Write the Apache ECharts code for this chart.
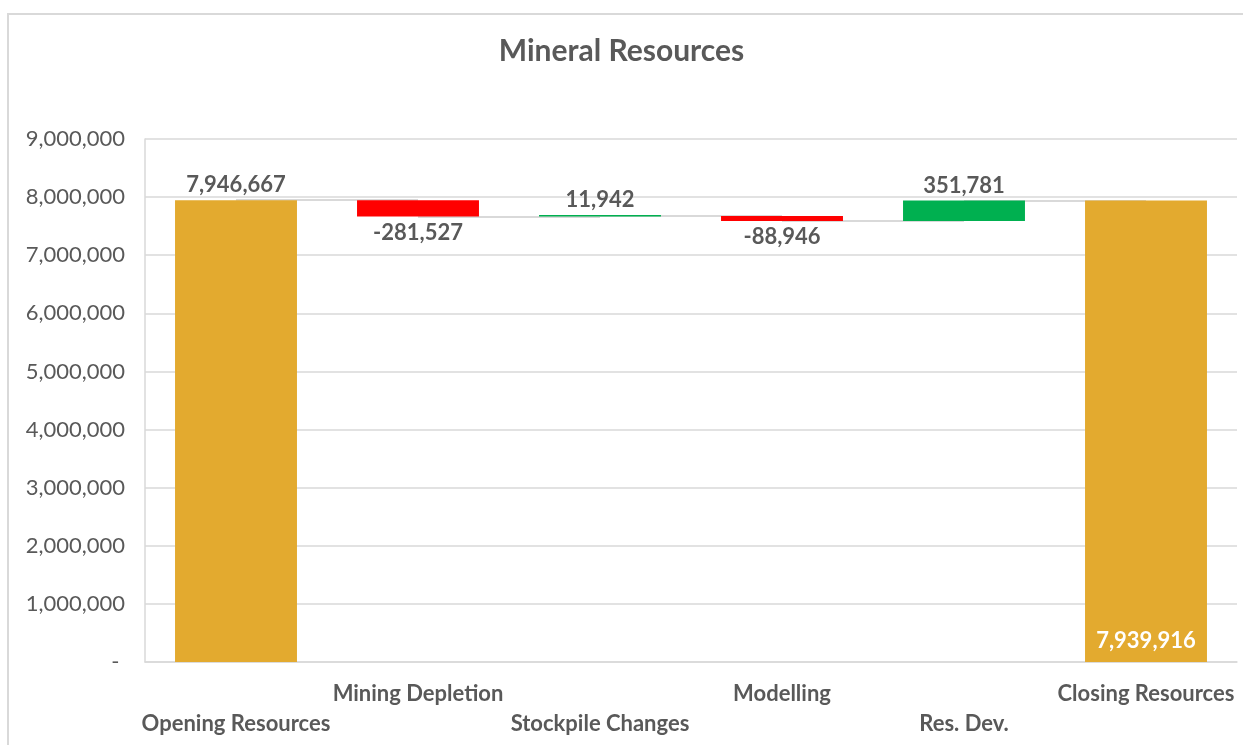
<!DOCTYPE html>
<html>
<head>
<meta charset="utf-8">
<script src="https://cdn.jsdelivr.net/npm/echarts@6/dist/echarts.min.js"></script>
<style>
html,body{margin:0;padding:0;background:#fff;}
#chart{width:1243px;height:745px;}
</style>
</head>
<body>
<div id="chart"></div>
<script>
const categories = ['Opening Resources', 'Mining Depletion', 'Stockpile Changes', 'Modelling', 'Res. Dev.', 'Closing Resources'];
const values = [7946667, -281527, 11942, -88946, 351781, 7939916];
const isTotal = [true, false, false, false, false, true];
const yTicks = { min: 0, max: 9000000, interval: 1000000 };

const fmt = v => Math.round(v).toLocaleString('en-US');

// build waterfall pieces
const baseData = [], totalData = [], decData = [], incData = [], levels = [];
let running = 0;
values.forEach((v, i) => {
  if (isTotal[i]) {
    baseData.push(0);
    totalData.push(v);
    decData.push('-');
    incData.push('-');
    running = v;
  } else {
    const next = running + v;
    baseData.push(Math.min(running, next));
    totalData.push('-');
    if (v < 0) { decData.push(-v); incData.push('-'); }
    else { incData.push(v); decData.push('-'); }
    running = next;
  }
  levels.push(running);
});

const connectors = [];
for (let i = 0; i < categories.length - 1; i++) {
  connectors.push([{ coord: [i, levels[i]] }, { coord: [i + 1, levels[i]] }]);
}

const FONT = 'Lato';
const TXT = '#595959';
const LBL = 22;

const totalSeriesData = totalData.map((v, i) => {
  if (v === '-') return '-';
  if (i === categories.length - 1) {
    return { value: v, label: { show: true, position: 'insideBottom', distance: 10, color: '#ffffff',
      formatter: p => fmt(p.value) } };
  }
  return { value: v, label: { show: true, position: 'top', distance: 4, color: TXT,
    formatter: p => fmt(p.value) } };
});

const chart = echarts.init(document.getElementById('chart'), null, { renderer: 'canvas' });
chart.setOption({
  animation: false,
  backgroundColor: '#ffffff',
  textStyle: { fontFamily: FONT },
  title: {
    text: 'Mineral Resources',
    left: 'center',
    top: 31,
    textStyle: { fontFamily: FONT, fontWeight: 'bold', fontSize: 30, color: TXT }
  },
  graphic: [{
    type: 'rect',
    shape: { x: 8, y: 14, width: 1260, height: 760 },
    style: { fill: 'none', stroke: '#d9d9d9', lineWidth: 2 },
    silent: true, z: -10
  }],
  grid: { left: 145, right: 6, top: 139, bottom: 83, containLabel: false },
  xAxis: {
    type: 'category',
    data: categories,
    axisTick: { show: false },
    axisLine: { show: true, lineStyle: { color: '#d9d9d9', width: 1.5 } },
    axisLabel: {
      interval: 0,
      margin: 17,
      fontFamily: FONT, fontWeight: 'bold', fontSize: LBL, color: TXT,
      lineHeight: 30,
      formatter: (v, i) => (i % 2 === 0 ? '\n' + v : v)
    }
  },
  yAxis: {
    type: 'value',
    min: yTicks.min, max: yTicks.max, interval: yTicks.interval,
    axisLine: { show: true, lineStyle: { color: '#d9d9d9', width: 1.5 } },
    axisTick: { show: false },
    splitLine: { lineStyle: { color: '#d9d9d9', width: 1.5 } },
    axisLabel: {
      margin: 20,
      fontFamily: FONT, fontSize: LBL, color: TXT,
      formatter: v => (v === 0 ? '- ' : fmt(v))
    }
  },
  series: [
    {
      name: 'connectors', type: 'line', data: [], z: 1, silent: true,
      markLine: {
        z: 1,
        silent: true, symbol: ['none', 'none'],
        label: { show: false },
        lineStyle: { type: 'solid', color: '#d9d9d9', width: 2 },
        data: connectors
      }
    },
    {
      name: 'base', type: 'bar', stack: 'w', barWidth: '67%', z: 2,
      itemStyle: { color: 'transparent' }, silent: true,
      data: baseData
    },
    {
      name: 'total', type: 'bar', stack: 'w', z: 3,
      itemStyle: { color: '#E3AA2F' },
      label: { fontFamily: FONT, fontWeight: 'bold', fontSize: LBL },
      data: totalSeriesData
    },
    {
      name: 'decrease', type: 'bar', stack: 'w', z: 3,
      itemStyle: { color: '#FF0000' },
      label: { show: true, position: 'bottom', distance: 5, fontFamily: FONT, fontWeight: 'bold', fontSize: LBL, color: TXT,
        formatter: p => '-' + fmt(p.value) },
      data: decData
    },
    {
      name: 'increase', type: 'bar', stack: 'w', z: 3, barMinHeight: 1.5,
      itemStyle: { color: '#00B050' },
      label: { show: true, position: 'top', distance: 4, fontFamily: FONT, fontWeight: 'bold', fontSize: LBL, color: TXT,
        formatter: p => fmt(p.value) },
      data: incData
    }
  ]
});
</script>
</body>
</html>
